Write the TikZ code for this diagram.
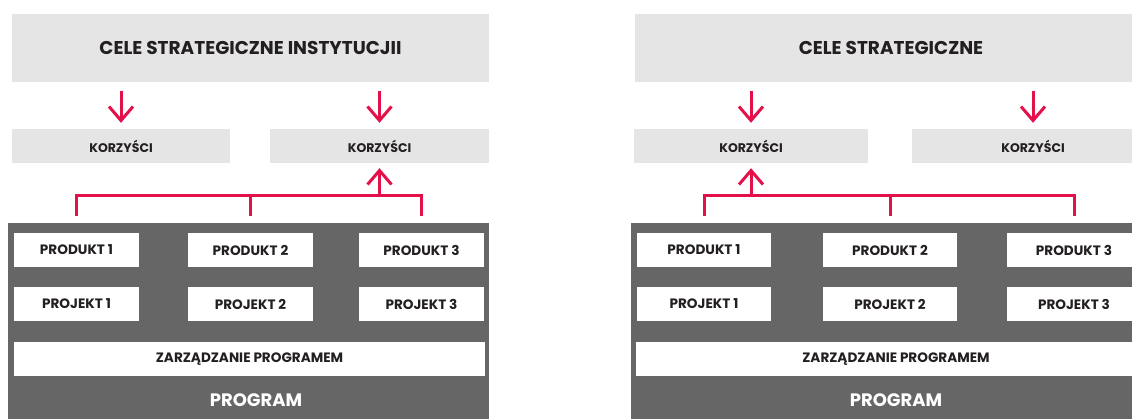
\documentclass[tikz,border=0pt]{standalone}
\usepackage{fontspec}
\setmainfont{Poppins}
\usetikzlibrary{arrows.meta}
\definecolor{boxgray}{HTML}{E5E5E5}
\definecolor{proggray}{HTML}{666666}
\definecolor{linkred}{HTML}{E4104A}
\definecolor{textdark}{HTML}{231F20}
\tikzset{
  goalbox/.style={fill=boxgray, minimum height=68, inner sep=0, text=textdark, font=\bfseries\fontsize{18.5}{21}\selectfont},
  benefitbox/.style={fill=boxgray, minimum height=34, inner sep=0, text=textdark, font=\bfseries\fontsize{12.5}{14}\selectfont},
  itembox/.style={fill=white, minimum height=34, inner sep=0, text=textdark, font=\bfseries\fontsize{13.6}{15}\selectfont},
  progbox/.style={fill=proggray, inner sep=0},
  progtitle/.style={text=white, inner sep=0, font=\bfseries\fontsize{18}{21}\selectfont},
  link/.style={linkred, line width=3pt},
  linkarrow/.style={link, -{Straight Barb[length=14pt,width=24pt]}}
}
\begin{document}
\begin{tikzpicture}[x=1pt,y=-1pt]
\clip (0,0) rectangle (1132,419);
\node[goalbox, minimum width=477] (goalL) at (250.5,48) {CELE STRATEGICZNE INSTYTUCJII};
\node[benefitbox, minimum width=218] (benL1) at (121,146) {KORZYŚCI};
\node[benefitbox, minimum width=219] (benL2) at (379.5,146) {KORZYŚCI};
\node[progbox, minimum width=481, minimum height=200] (progL) at (248.5,323) {};
\node[itembox, minimum width=125] (prodL1) at (76.5,250) {PRODUKT 1};
\node[itembox, minimum width=125] (prodL2) at (250.5,250) {PRODUKT 2};
\node[itembox, minimum width=125] (prodL3) at (421.5,250) {PRODUKT 3};
\node[itembox, minimum width=125] (projL1) at (76.5,304) {PROJEKT 1};
\node[itembox, minimum width=125] (projL2) at (250.5,304) {PROJEKT 2};
\node[itembox, minimum width=125] (projL3) at (421.5,304) {PROJEKT 3};
\node[itembox, minimum width=471] (mgmtL) at (249.5,359) {ZARZĄDZANIE PROGRAMEM};
\node[progtitle] (progLtxt) at (256,400) {PROGRAM};
\coordinate (barL) at (250,196);
\coordinate (dropL) at (250,216);
\draw[linkarrow, shorten <=9pt, shorten >=6pt] (goalL.south -| benL1.north) -- (benL1.north);
\draw[linkarrow, shorten <=9pt, shorten >=6pt] (goalL.south -| benL2.north) -- (benL2.north);
\draw[link] (prodL1 |- dropL) -- (prodL1 |- barL) -- (prodL3 |- barL) -- (prodL3 |- dropL);
\draw[link] (prodL2 |- barL) -- (prodL2 |- dropL);
\draw[linkarrow, shorten >=5pt] (benL2 |- barL) -- (benL2.south);
\node[goalbox, minimum width=512] (goalR) at (891,48) {CELE STRATEGICZNE};
\node[benefitbox, minimum width=234] (benR1) at (751,146) {KORZYŚCI};
\node[benefitbox, minimum width=242] (benR2) at (1033,146) {KORZYŚCI};
\node[progbox, minimum width=530, minimum height=200] (progR) at (896,323) {};
\node[itembox, minimum width=134] (prodR1) at (704,250) {PRODUKT 1};
\node[itembox, minimum width=134] (prodR2) at (890,250) {PRODUKT 2};
\node[itembox, minimum width=134] (prodR3) at (1074,250) {PRODUKT 3};
\node[itembox, minimum width=134] (projR1) at (704,304) {PROJEKT 1};
\node[itembox, minimum width=134] (projR2) at (890,304) {PROJEKT 2};
\node[itembox, minimum width=134] (projR3) at (1074,304) {PROJEKT 3};
\node[itembox, minimum width=520] (mgmtR) at (896,359) {ZARZĄDZANIE PROGRAMEM};
\node[progtitle] (progRtxt) at (896,400) {PROGRAM};
\coordinate (barR) at (890,196);
\coordinate (dropR) at (890,216);
\draw[linkarrow, shorten <=9pt, shorten >=6pt] (goalR.south -| benR1.north) -- (benR1.north);
\draw[linkarrow, shorten <=9pt, shorten >=6pt] (goalR.south -| benR2.north) -- (benR2.north);
\draw[link] (prodR1 |- dropR) -- (prodR1 |- barR) -- (prodR3 |- barR) -- (prodR3 |- dropR);
\draw[link] (prodR2 |- barR) -- (prodR2 |- dropR);
\draw[linkarrow, shorten >=5pt] (benR1 |- barR) -- (benR1.south);
\end{tikzpicture}
\end{document}
